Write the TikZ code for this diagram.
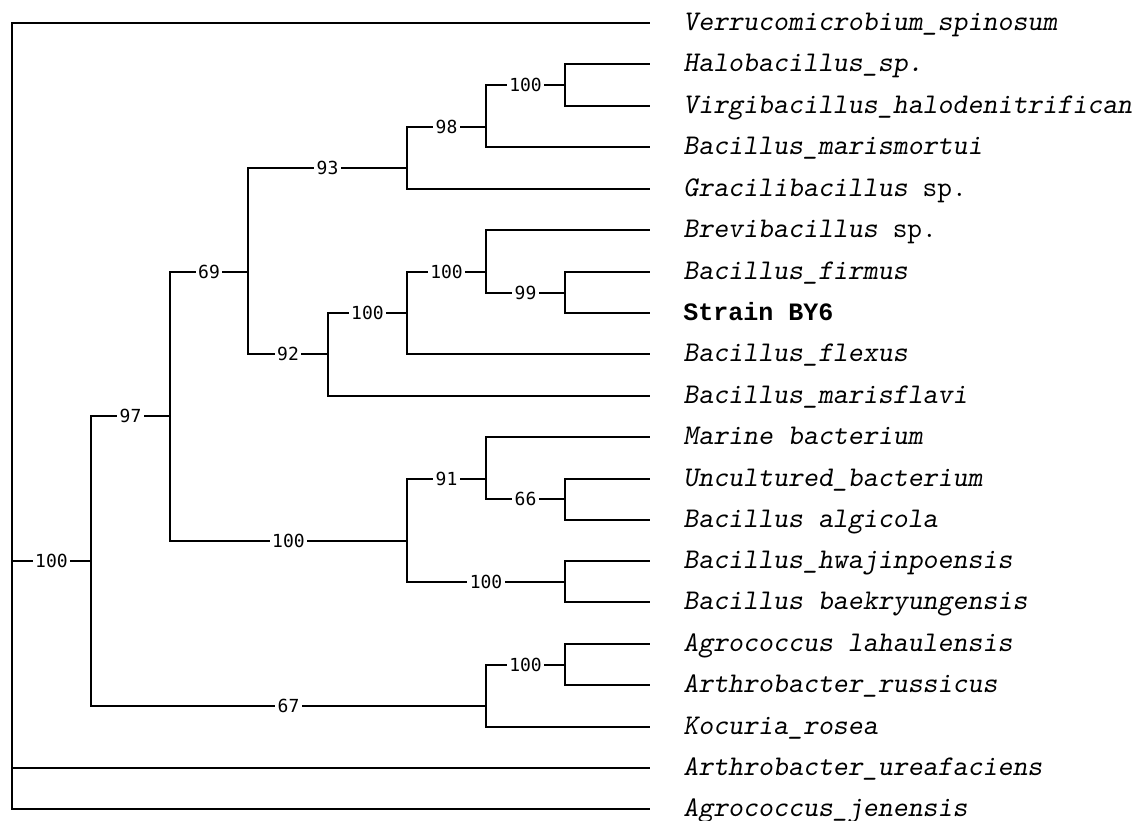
\documentclass[tikz,border=0pt]{standalone}
\usepackage{fontspec}
\newfontfamily\strainfont{Liberation Mono}
\newfontfamily\bootfont{DejaVu Sans Mono}
\usepackage{tikz}
\usetikzlibrary{calc}

\begin{document}
\begin{tikzpicture}[x=0.6pt,y=-0.6pt,
  branch/.style={line width=1.1pt},
  boot/.style={fill=white,inner xsep=1.5pt,inner ysep=0.5pt,font=\bootfont\fontsize{10.8}{12}\selectfont},
  leaflab/.style={anchor=base west,xshift=19.8pt,yshift=-4.2pt,inner sep=0pt,font=\ttfamily\slshape\fontsize{17.1}{20}\selectfont}]
  \useasboundingbox (0,0) rectangle (1136,820);
  % Leaves
  \foreach \n/\y/\txt in {Ver/23/Verrucomicrobium\_spinosum, Hal/64/Halobacillus\_sp., Vir/106/Virgibacillus\_halodenitrifican,
      Mmo/147/Bacillus\_marismortui, Gra/189/Gracilibacillus \textup{sp.}, Bre/230/Brevibacillus \textup{sp.},
      Fir/272/Bacillus\_firmus, BY/313/{\strainfont\fontsize{15}{18}\selectfont\upshape\bfseries Strain BY6}, Fle/354/Bacillus\_flexus,
      Mfl/396/Bacillus\_marisflavi, Mba/437/Marine bacterium, Unc/479/Uncultured\_bacterium,
      Alg/520/Bacillus algicola, Hwa/561/Bacillus\_hwajinpoensis, Bae/602/Bacillus baekryungensis,
      Lah/644/Agrococcus lahaulensis, Rus/685/Arthrobacter\_russicus, Koc/727/Kocuria\_rosea,
      Ure/768/Arthrobacter\_ureafaciens, Jen/809/Agrococcus\_jenensis}{
    \coordinate (t\n) at (650,\y);
    \node[leaflab] (l\n) at (t\n) {\txt};
  }
  % Internal nodes
  \coordinate (root) at (12,416);
  \coordinate (n100g) at (91,561);
  \coordinate (n97) at (170,416);
  \coordinate (n69) at (248,272);
  \coordinate (n93) at (407,168);
  \coordinate (n98) at (486,127);
  \coordinate (n100a) at (565,85);
  \coordinate (n92) at (328,354);
  \coordinate (n100c) at (407,313);
  \coordinate (n100b) at (486,272);
  \coordinate (n99) at (565,293);
  \coordinate (n100e) at (407,541);
  \coordinate (n91) at (486,479);
  \coordinate (n66) at (565,499);
  \coordinate (n100d) at (565,582);
  \coordinate (n67) at (486,706);
  \coordinate (n100f) at (565,665);
  % Branches without support
  \foreach \p/\c in {root/tVer, root/tUre, root/tJen, n93/tGra, n98/tMmo, n100a/tHal, n100a/tVir,
      n92/tMfl, n100c/tFle, n100b/tBre, n99/tFir, n99/tBY, n91/tMba, n66/tUnc, n66/tAlg,
      n100d/tHwa, n100d/tBae, n67/tKoc, n100f/tLah, n100f/tRus}
    \draw[branch] (\p) |- (\c);
  % Branches with bootstrap values
  \foreach \p/\c/\b in {root/n100g/100, n100g/n97/97, n100g/n67/67, n97/n69/69, n97/n100e/100,
      n69/n93/93, n69/n92/92, n93/n98/98, n98/n100a/100, n92/n100c/100, n100c/n100b/100,
      n100b/n99/99, n100e/n91/91, n100e/n100d/100, n91/n66/66, n67/n100f/100}
    \draw[branch] (\p) |- (\c) node[boot,pos=0.75] (b\c) {\b};
\end{tikzpicture}
\end{document}
